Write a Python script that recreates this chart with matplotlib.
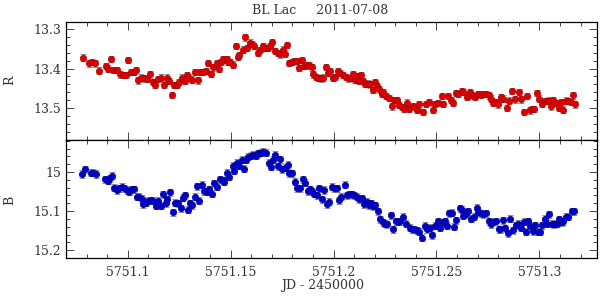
import numpy as np
import matplotlib
matplotlib.use("Agg")
import matplotlib.pyplot as plt
from matplotlib.ticker import MultipleLocator, FormatStrFormatter

plt.rcParams['font.family'] = ['DejaVu Serif']

# R band: JD - 2450000, magnitude
jd_r = [5751.0784, 5751.0813, 5751.0828, 5751.0843, 5751.0862, 5751.0893, 5751.0904, 5751.0917,
        5751.0930, 5751.0947, 5751.0963, 5751.0979, 5751.0990, 5751.1000, 5751.1016, 5751.1031,
        5751.1040, 5751.1052, 5751.1065, 5751.1079, 5751.1095, 5751.1108, 5751.1122, 5751.1133,
        5751.1146, 5751.1160, 5751.1176, 5751.1192, 5751.1202, 5751.1217, 5751.1226, 5751.1241,
        5751.1251, 5751.1265, 5751.1277, 5751.1287, 5751.1299, 5751.1314, 5751.1329, 5751.1340,
        5751.1351, 5751.1367, 5751.1381, 5751.1392, 5751.1405, 5751.1416, 5751.1433, 5751.1444,
        5751.1452, 5751.1465, 5751.1481, 5751.1489, 5751.1497, 5751.1513, 5751.1525, 5751.1538,
        5751.1542, 5751.1559, 5751.1570, 5751.1578, 5751.1594, 5751.1606, 5751.1614, 5751.1635,
        5751.1643, 5751.1656, 5751.1667, 5751.1683, 5751.1692, 5751.1701, 5751.1716, 5751.1729,
        5751.1740, 5751.1753, 5751.1764, 5751.1773, 5751.1785, 5751.1797, 5751.1810, 5751.1821,
        5751.1833, 5751.1846, 5751.1857, 5751.1870, 5751.1883, 5751.1894, 5751.1902, 5751.1915,
        5751.1926, 5751.1938, 5751.1951, 5751.1964, 5751.1975, 5751.1983, 5751.1996, 5751.2007,
        5751.2021, 5751.2032, 5751.2048, 5751.2061, 5751.2072, 5751.2084, 5751.2096, 5751.2105,
        5751.2113, 5751.2126, 5751.2134, 5751.2142, 5751.2153, 5751.2166, 5751.2178, 5751.2191,
        5751.2202, 5751.2213, 5751.2223, 5751.2234, 5751.2242, 5751.2255, 5751.2270, 5751.2286,
        5751.2294, 5751.2307, 5751.2320, 5751.2332, 5751.2343, 5751.2356, 5751.2366, 5751.2385,
        5751.2405, 5751.2416, 5751.2437, 5751.2450, 5751.2464, 5751.2485, 5751.2493, 5751.2507,
        5751.2526, 5751.2534, 5751.2558, 5751.2570, 5751.2580, 5751.2595, 5751.2607, 5751.2623,
        5751.2631, 5751.2648, 5751.2664, 5751.2675, 5751.2688, 5751.2701, 5751.2716, 5751.2728,
        5751.2741, 5751.2753, 5751.2764, 5751.2774, 5751.2790, 5751.2801, 5751.2814, 5751.2825,
        5751.2842, 5751.2853, 5751.2868, 5751.2882, 5751.2902, 5751.2911, 5751.2927, 5751.2939,
        5751.2955, 5751.2966, 5751.2976, 5751.2988, 5751.3000, 5751.3012, 5751.3025, 5751.3036,
        5751.3048, 5751.3057, 5751.3068, 5751.3082, 5751.3093, 5751.3104, 5751.3117, 5751.3129,
        5751.3141, 5751.3153, 5751.3163, 5751.3174]
mag_r = [13.372, 13.387, 13.383, 13.387, 13.405, 13.394, 13.400, 13.376,
         13.404, 13.404, 13.415, 13.417, 13.417, 13.379, 13.409, 13.409,
         13.404, 13.430, 13.423, 13.425, 13.427, 13.415, 13.434, 13.442,
         13.427, 13.423, 13.442, 13.423, 13.432, 13.467, 13.442, 13.442,
         13.434, 13.423, 13.432, 13.417, 13.423, 13.428, 13.409, 13.430,
         13.409, 13.409, 13.406, 13.386, 13.413, 13.397, 13.386, 13.400,
         13.383, 13.375, 13.377, 13.383, 13.383, 13.390, 13.342, 13.370,
         13.366, 13.352, 13.321, 13.348, 13.334, 13.338, 13.342, 13.360,
         13.353, 13.342, 13.348, 13.348, 13.342, 13.332, 13.356, 13.360,
         13.364, 13.352, 13.362, 13.341, 13.386, 13.383, 13.381, 13.381,
         13.398, 13.379, 13.394, 13.392, 13.392, 13.397, 13.415, 13.421,
         13.424, 13.425, 13.423, 13.396, 13.411, 13.407, 13.423, 13.421,
         13.406, 13.411, 13.417, 13.421, 13.425, 13.424, 13.415, 13.428,
         13.420, 13.432, 13.417, 13.432, 13.438, 13.438, 13.440, 13.455,
         13.434, 13.445, 13.453, 13.464, 13.460, 13.470, 13.474, 13.496,
         13.479, 13.479, 13.493, 13.498, 13.502, 13.486, 13.502, 13.496,
         13.504, 13.491, 13.510, 13.489, 13.485, 13.504, 13.489, 13.488,
         13.470, 13.489, 13.470, 13.479, 13.488, 13.462, 13.464, 13.457,
         13.460, 13.472, 13.460, 13.468, 13.472, 13.464, 13.466, 13.464,
         13.464, 13.468, 13.476, 13.488, 13.485, 13.491, 13.472, 13.476,
         13.500, 13.481, 13.457, 13.478, 13.460, 13.478, 13.510, 13.470,
         13.506, 13.502, 13.502, 13.462, 13.476, 13.489, 13.482, 13.482,
         13.481, 13.496, 13.479, 13.488, 13.499, 13.485, 13.504, 13.481,
         13.483, 13.485, 13.468, 13.491]

# B band
jd_b = [5751.0776, 5751.0792, 5751.0820, 5751.0833, 5751.0846, 5751.0890, 5751.0903, 5751.0914,
        5751.0922, 5751.0933, 5751.0947, 5751.0958, 5751.0971, 5751.0983, 5751.0995, 5751.1006,
        5751.1019, 5751.1031, 5751.1044, 5751.1056, 5751.1068, 5751.1076, 5751.1089, 5751.1100,
        5751.1113, 5751.1124, 5751.1136, 5751.1146, 5751.1160, 5751.1173, 5751.1185, 5751.1192,
        5751.1206, 5751.1222, 5751.1230, 5751.1243, 5751.1258, 5751.1267, 5751.1278, 5751.1292,
        5751.1303, 5751.1314, 5751.1327, 5751.1335, 5751.1348, 5751.1363, 5751.1372, 5751.1384,
        5751.1395, 5751.1408, 5751.1421, 5751.1433, 5751.1449, 5751.1462, 5751.1468, 5751.1481,
        5751.1494, 5751.1510, 5751.1517, 5751.1533, 5751.1542, 5751.1554, 5751.1565, 5751.1575,
        5751.1586, 5751.1598, 5751.1610, 5751.1624, 5751.1635, 5751.1648, 5751.1659, 5751.1671,
        5751.1687, 5751.1696, 5751.1705, 5751.1716, 5751.1732, 5751.1740, 5751.1751, 5751.1764,
        5751.1778, 5751.1785, 5751.1800, 5751.1813, 5751.1821, 5751.1837, 5751.1853, 5751.1862,
        5751.1875, 5751.1886, 5751.1894, 5751.1905, 5751.1919, 5751.1931, 5751.1943, 5751.1955,
        5751.1970, 5751.1980, 5751.1991, 5751.2003, 5751.2016, 5751.2027, 5751.2035, 5751.2056,
        5751.2064, 5751.2076, 5751.2089, 5751.2100, 5751.2113, 5751.2124, 5751.2137, 5751.2148,
        5751.2162, 5751.2174, 5751.2182, 5751.2194, 5751.2202, 5751.2215, 5751.2226, 5751.2239,
        5751.2251, 5751.2262, 5751.2278, 5751.2291, 5751.2302, 5751.2315, 5751.2323, 5751.2339,
        5751.2353, 5751.2369, 5751.2380, 5751.2391, 5751.2407, 5751.2416, 5751.2429, 5751.2445,
        5751.2456, 5751.2469, 5751.2480, 5751.2493, 5751.2507, 5751.2518, 5751.2531, 5751.2542,
        5751.2550, 5751.2563, 5751.2575, 5751.2586, 5751.2595, 5751.2612, 5751.2623, 5751.2631,
        5751.2644, 5751.2655, 5751.2668, 5751.2680, 5751.2696, 5751.2704, 5751.2716, 5751.2728,
        5751.2741, 5751.2753, 5751.2766, 5751.2777, 5751.2790, 5751.2803, 5751.2809, 5751.2823,
        5751.2834, 5751.2847, 5751.2858, 5751.2874, 5751.2887, 5751.2898, 5751.2910, 5751.2923,
        5751.2934, 5751.2944, 5751.2955, 5751.2968, 5751.2980, 5751.2991, 5751.3004, 5751.3015,
        5751.3025, 5751.3039, 5751.3049, 5751.3061, 5751.3073, 5751.3085, 5751.3096, 5751.3109,
        5751.3117, 5751.3130, 5751.3141, 5751.3158, 5751.3166]
mag_b = [15.005, 14.993, 15.002, 15.002, 15.005, 15.019, 15.022, 15.016,
         15.009, 15.040, 15.046, 15.042, 15.038, 15.042, 15.046, 15.051,
         15.044, 15.044, 15.063, 15.063, 15.069, 15.082, 15.079, 15.074,
         15.072, 15.074, 15.086, 15.074, 15.086, 15.057, 15.080, 15.070,
         15.052, 15.103, 15.079, 15.080, 15.093, 15.066, 15.059, 15.097,
         15.080, 15.085, 15.063, 15.036, 15.074, 15.033, 15.049, 15.051,
         15.044, 15.056, 15.029, 15.038, 15.019, 15.021, 15.025, 15.002,
         15.012, 14.984, 14.997, 14.976, 14.984, 14.969, 14.991, 14.969,
         14.961, 14.958, 14.956, 14.958, 14.952, 14.951, 14.948, 14.951,
         14.976, 14.986, 14.969, 14.956, 14.985, 14.967, 14.993, 14.989,
         14.982, 15.003, 15.003, 15.025, 15.042, 15.042, 15.019, 15.027,
         15.049, 15.044, 15.049, 15.055, 15.059, 15.042, 15.070, 15.046,
         15.082, 15.076, 15.038, 15.042, 15.042, 15.072, 15.063, 15.032,
         15.059, 15.057, 15.057, 15.059, 15.063, 15.070, 15.067, 15.082,
         15.076, 15.085, 15.080, 15.087, 15.085, 15.100, 15.121, 15.129,
         15.132, 15.134, 15.110, 15.147, 15.126, 15.127, 15.126, 15.115,
         15.132, 15.143, 15.146, 15.146, 15.149, 15.153, 15.168, 15.138,
         15.146, 15.142, 15.162, 15.138, 15.126, 15.143, 15.129, 15.126,
         15.138, 15.106, 15.104, 15.140, 15.123, 15.093, 15.096, 15.112,
         15.108, 15.100, 15.119, 15.115, 15.092, 15.103, 15.106, 15.108,
         15.106, 15.126, 15.134, 15.127, 15.126, 15.147, 15.147, 15.123,
         15.144, 15.157, 15.119, 15.149, 15.136, 15.132, 15.143, 15.127,
         15.153, 15.126, 15.138, 15.151, 15.136, 15.153, 15.153, 15.136,
         15.119, 15.132, 15.108, 15.132, 15.134, 15.132, 15.121, 15.129,
         15.126, 15.115, 15.115, 15.100, 15.100]

err_r = 0.008
err_b = 0.009

fig, (ax1, ax2) = plt.subplots(2, 1, figsize=(6, 2.99), dpi=100, sharex=True)
fig.subplots_adjust(left=66/600, right=597/600, top=1-22/299, bottom=1-258/299, hspace=0)

ax1.errorbar(jd_r, mag_r, yerr=err_r, fmt='o', ms=4.6, mfc='#dd0000', mec='#aa0000', mew=0.5,
             ecolor='#666666', elinewidth=0.8, capsize=2.2, capthick=0.8)
ax2.errorbar(jd_b, mag_b, yerr=err_b, fmt='o', ms=4.6, mfc='#0000cc', mec='#000099', mew=0.5,
             ecolor='#666666', elinewidth=0.8, capsize=2.2, capthick=0.8)

ax1.set_xlim(5751.070, 5751.328)
ax1.set_ylim(13.581, 13.282)
ax2.set_ylim(15.220, 14.918)

for ax in (ax1, ax2):
    ax.xaxis.set_major_locator(MultipleLocator(0.05))
    ax.xaxis.set_minor_locator(MultipleLocator(0.01))
    ax.yaxis.set_major_locator(MultipleLocator(0.1))
    ax.yaxis.set_minor_locator(MultipleLocator(0.02))
    ax.yaxis.set_major_formatter(FormatStrFormatter('%g'))
    ax.tick_params(which='both', direction='in', top=True, right=True, labelsize=9,
                   labelcolor='#333333', color='#444444', width=0.7)
    ax.tick_params(which='major', length=6)
    ax.tick_params(which='minor', length=3)
    for s in ax.spines.values():
        s.set_linewidth(0.9)

ax2.xaxis.set_major_formatter(FormatStrFormatter('%g'))
ax2.tick_params(axis='x', pad=6)

fig.text(10/600, 1-80/299, 'R', rotation=90, ha='center', va='center', fontsize=9, color='#333333')
fig.text(10/600, 1-200/299, 'B', rotation=90, ha='center', va='center', fontsize=9, color='#333333')
fig.text(320/600, 1-11/299, 'BL Lac     2011-07-08', ha='center', va='center', fontsize=9, color='#333333')
fig.text(323/600, 1-286/299, 'JD - 2450000', ha='center', va='center', fontsize=9, color='#333333')

fig.savefig('out.png', dpi=100)
